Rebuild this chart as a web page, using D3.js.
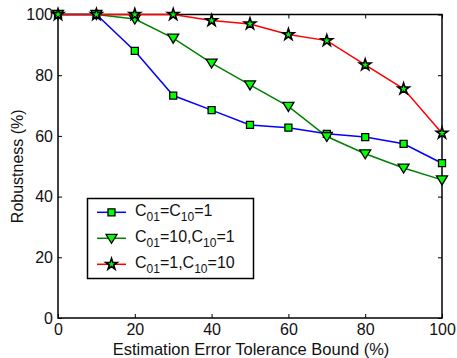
<!DOCTYPE html>
<html>
<head>
<meta charset="utf-8">
<script src="https://cdn.jsdelivr.net/npm/d3@7"></script>
<style>
  body { margin: 0; background: #fff; }
  svg { display: block; font-family: "Liberation Sans", Arial, sans-serif; }
</style>
</head>
<body>
<div id="chart"></div>
<script>
// Data
const errorBounds = [0, 10, 20, 30, 40, 50, 60, 70, 80, 90, 100]
const robustEqual = [100, 100, 88, 73.3, 68.5, 63.6, 62.7, 60.7, 59.6, 57.4, 51]
const robustC01High = [100, 100, 98.5, 92.2, 84, 76.8, 69.7, 59.8, 54.1, 49.4, 45.5]
const robustC10High = [100, 100, 100, 100, 98, 96.9, 93.4, 91.4, 83.4, 75.5, 60.9]
const xTicks = [0, 20, 40, 60, 80, 100]
const yTicks = [0, 20, 40, 60, 80, 100]
const seriesNames = [
  ['C', '01', '=C', '10', '=1'],
  ['C', '01', '=10,C', '10', '=1'],
  ['C', '01', '=1,C', '10', '=10']
]

const width = 457
const height = 358
const margin = { top: 14.5, right: 15, bottom: 40, left: 58 }

const svg = d3.select('#chart').append('svg')
  .attr('width', width)
  .attr('height', height)

const x = d3.scaleLinear().domain([0, 100]).range([margin.left, width - margin.right])
const y = d3.scaleLinear().domain([0, 100]).range([height - margin.bottom, margin.top])

// axes (ticks pointing inward, box style)
const axisG = svg.append('g')

axisG.append('g')
  .attr('transform', `translate(0,${y(0)})`)
  .call(d3.axisBottom(x).tickValues(xTicks).tickSize(-4).tickSizeOuter(0).tickPadding(6))
axisG.append('g')
  .attr('transform', `translate(${x(0)},0)`)
  .call(d3.axisLeft(y).tickValues(yTicks).tickSize(-4).tickSizeOuter(0).tickPadding(5))
axisG.append('g')
  .attr('transform', `translate(0,${y(100)})`)
  .call(d3.axisTop(x).tickValues(xTicks).tickSize(-4).tickSizeOuter(0).tickFormat(''))
axisG.append('g')
  .attr('transform', `translate(${x(100)},0)`)
  .call(d3.axisRight(y).tickValues(yTicks).tickSize(-4).tickSizeOuter(0).tickFormat(''))

axisG.selectAll('.domain').remove()
axisG.selectAll('.tick line').attr('stroke', '#000').attr('stroke-width', 1)
axisG.selectAll('.tick text')
  .attr('fill', '#111')
  .attr('font-size', 16)
  .attr('font-family', '"Liberation Sans", Arial, sans-serif')

svg.append('rect')
  .attr('x', x(0)).attr('y', y(100))
  .attr('width', x(100) - x(0)).attr('height', y(0) - y(100))
  .attr('fill', 'none').attr('stroke', '#000').attr('stroke-width', 1.5)

// axis labels
svg.append('text')
  .attr('x', (x(0) + x(100)) / 2 + 1)
  .attr('y', 354.5)
  .attr('text-anchor', 'middle')
  .attr('font-size', 16.5)
  .attr('fill', '#111')
  .text('Estimation Error Tolerance Bound (%)')

svg.append('text')
  .attr('transform', `translate(22.5,${(y(0) + y(100)) / 2}) rotate(-90)`)
  .attr('text-anchor', 'middle')
  .attr('font-size', 16)
  .attr('fill', '#111')
  .text('Robustness (%)')

// marker shapes
const squarePath = 'M-3.5,-3.5H3.5V3.5H-3.5Z'
const trianglePath = 'M-5.5,-4L5.5,-4L0,5Z'
const starPath = d3.symbol(d3.symbolStar, 40)()

const series = [
  { values: robustEqual, color: '#0000ff', marker: squarePath, sw: 1.3 },
  { values: robustC01High, color: '#008000', marker: trianglePath, sw: 1.3 },
  { values: robustC10High, color: '#ff0000', marker: starPath, sw: 1.6 }
]

const line = d3.line()
  .x((d, i) => x(errorBounds[i]))
  .y(d => y(d))

series.forEach(s => {
  svg.append('path')
    .datum(s.values)
    .attr('d', line)
    .attr('fill', 'none')
    .attr('stroke', s.color)
    .attr('stroke-width', 1.5)

  svg.append('g').selectAll('path')
    .data(s.values)
    .join('path')
    .attr('transform', (d, i) => `translate(${x(errorBounds[i])},${y(d)})`)
    .attr('d', s.marker)
    .attr('fill', '#00ff00')
    .attr('stroke', '#000')
    .attr('stroke-width', s.sw)
})

// legend
const legend = svg.append('g')
legend.append('rect')
  .attr('x', 87.5).attr('y', 198.5)
  .attr('width', 166).attr('height', 80)
  .attr('fill', '#fff').attr('stroke', '#000').attr('stroke-width', 1.5)

const rowY = [212.3, 238.3, 264.3]
series.forEach((s, i) => {
  const g = legend.append('g').attr('transform', `translate(0,${rowY[i]})`)
  g.append('line')
    .attr('x1', 97).attr('x2', 126)
    .attr('stroke', s.color).attr('stroke-width', 1.5)
  g.append('path')
    .attr('transform', 'translate(111.5,0)')
    .attr('d', s.marker)
    .attr('fill', '#00ff00')
    .attr('stroke', '#000')
    .attr('stroke-width', s.sw)
  const t = g.append('text')
    .attr('x', 135).attr('y', 4)
    .attr('font-size', 16)
    .attr('fill', '#111')
  seriesNames[i].forEach((part, j) => {
    const sub = j % 2 === 1
    t.append('tspan')
      .attr('font-size', sub ? 12 : 16)
      .attr('dy', sub ? 5 : (j === 0 ? 0 : -5))
      .text(part)
  })
})
</script>
</body>
</html>
